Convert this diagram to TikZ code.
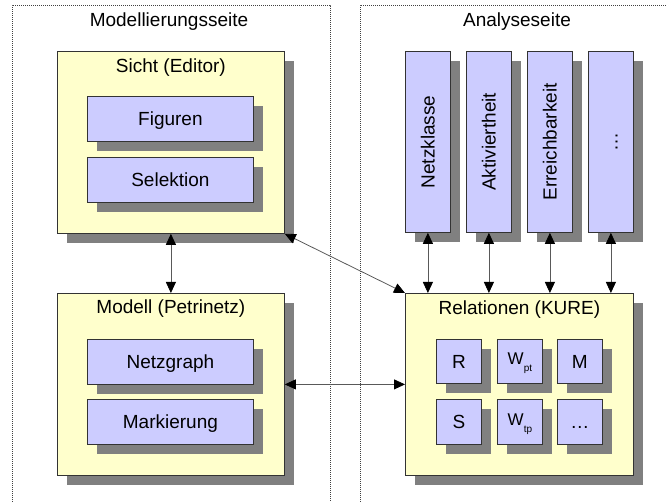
\documentclass[tikz,border=0pt]{standalone}
\usepackage{fontspec}
\setmainfont{Liberation Sans}
\usetikzlibrary{arrows.meta,shadows}
\definecolor{compyellow}{HTML}{FFFFCC}
\definecolor{partblue}{HTML}{CCCCFF}
\definecolor{shadowgray}{HTML}{808080}
\tikzset{
  every node/.style={font=\fontsize{19}{22}\selectfont},
  boxbase/.style={draw=black!80, line width=0.8pt, rectangle, inner sep=0pt,
    anchor=north west,
    drop shadow={shadow xshift=10pt, shadow yshift=-10pt, fill=shadowgray, opacity=1}},
  component/.style={boxbase, fill=compyellow, minimum width=227pt, minimum height=182pt},
  part/.style={boxbase, fill=partblue, minimum width=166pt, minimum height=45pt,
    text height=13.2pt, text depth=0pt},
  column/.style={boxbase, fill=partblue, minimum width=45pt, minimum height=181pt},
  cell/.style={boxbase, fill=partblue, minimum width=45pt, minimum height=44pt,
    text height=13.2pt, text depth=0pt},
  wcell/.style={cell, text depth=7pt},
  vlabel/.style={rotate=90, inner sep=0pt, text height=13.2pt, text depth=0pt},
  caption/.style={anchor=base, inner sep=0pt},
  side/.style={draw=black!75, line width=0.6pt, dash pattern=on 1pt off 1pt},
  link/.style={draw=black!65, line width=0.8pt,
    {Triangle[length=11pt,width=10pt,color=black]}-{Triangle[length=11pt,width=10pt,color=black]}}
}
\newcommand{\Wsub}[1]{{\fontsize{17}{20}\selectfont W}\raisebox{-7pt}{\fontsize{10}{11}\selectfont #1}}
\begin{document}
\begin{tikzpicture}[x=1pt, y=-1pt]
\useasboundingbox (0,0) rectangle (666,502);

% the two sides of the architecture
\draw[side] (12,502) -- (12,5) -- (330,5) -- (330,502);
\draw[side] (360,502) -- (360,5) -- (666,5);
\node[caption] (lefttitle) at (169,27) {Modellierungsseite};
\node[caption] (righttitle) at (517,27) {Analyseseite};

% modelling side
\node[component] (sicht) at (57,51) {};
\node[caption] (sichttitle) at ([yshift=-21.5pt]sicht.north) {Sicht (Editor)};
\node[part] (figuren) at (87,96) {Figuren};
\node[part] (selektion) at (87,157) {Selektion};

\node[component] (modell) at (57,293) {};
\node[caption] (modelltitle) at ([yshift=-21pt]modell.north) {Modell (Petrinetz)};
\node[part] (netzgraph) at (87,339) {Netzgraph};
\node[part] (markierung) at (87,399) {Markierung};

% analysis side
\node[column] (netzklasse) at (405,51) {};
\node[vlabel] at (netzklasse.center) {Netzklasse};
\node[column] (aktiv) at (466,51) {};
\node[vlabel] at (aktiv.center) {Aktiviertheit};
\node[column] (erreich) at (527,51) {};
\node[vlabel] at (erreich.center) {Erreichbarkeit};
\node[column] (weitere) at (588,51) {};
\node[vlabel] at (weitere.center) {\dots};

\node[component, minimum width=228pt] (kure) at (405,293) {};
\node[caption] (kuretitle) at ([yshift=-21.5pt]kure.north) {Relationen (KURE)};
\node[cell] (r) at (436,339) {R};
\node[wcell] (wpt) at (497,339) {\Wsub{pt}};
\node[cell] (m) at (557,339) {M};
\node[cell, minimum height=45pt] (s) at (436,399) {S};
\node[wcell, minimum height=45pt] (wtp) at (497,399) {\Wsub{tp}};
\node[cell, minimum height=45pt] (rest) at (557,399) {\dots};

% connections
\draw[link] (sicht.south) -- (modell.north);
\draw[link] (sicht.south east) -- (kure.north west);
\draw[link] (modell.east) -- (kure.west);
\foreach \c in {netzklasse, aktiv, erreich, weitere}
  \draw[link] (\c.south) -- (\c.south |- kure.north);
\end{tikzpicture}
\end{document}
